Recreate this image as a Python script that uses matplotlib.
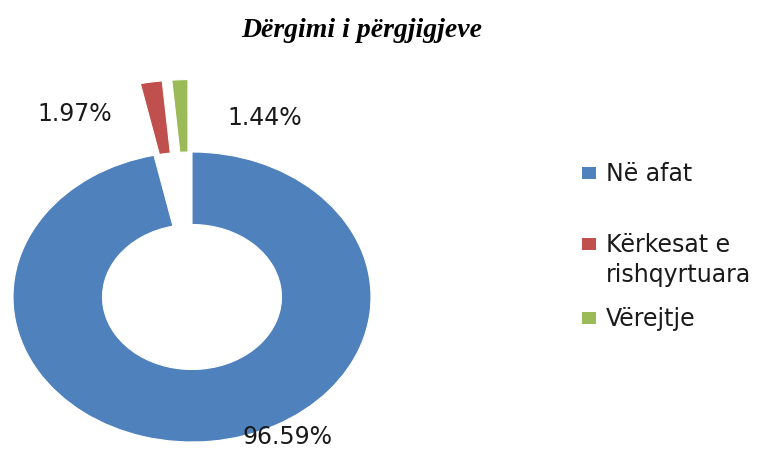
import matplotlib
matplotlib.use("Agg")
import matplotlib.pyplot as plt
from matplotlib.patches import Rectangle

# data
labels = ["Në afat", "Kërkesat e\nrishqyrtuara", "Vërejtje"]
values = [96.59, 1.97, 1.44]
pct_text = ["96.59%", "1.97%", "1.44%"]
colors = ["#4F81BD", "#C0504D", "#9BBB59"]
explode = [0.0, 0.5, 0.5]

W, H = 770, 450
fig = plt.figure(figsize=(W / 100, H / 100), dpi=100)

# pie centre and radii in pixels (the source image is stretched sideways)
cx, cy = 192, 450 - 297
rx, ry = 179, 145
ax = fig.add_axes([0, 0, 1, 1])
ax.pie(values, colors=colors, explode=explode, startangle=90,
       counterclock=False, radius=1.0,
       wedgeprops=dict(width=0.5, linewidth=0.8, edgecolor="white"))
ax.set_aspect("auto")
ax.set_xlim(-cx / rx, (W - cx) / rx)
ax.set_ylim(-cy / ry, (H - cy) / ry)
ax.axis("off")

lab_font = dict(family="DejaVu Sans", size=17, color="#1a1a1a")

# percentage labels (pixel positions, y from top)
label_pos = [(287, 437), (75, 114), (265, 118)]
for txt, (px, py) in zip(pct_text, label_pos):
    fig.text(px / W, 1 - py / H, txt, ha="center", va="center", **lab_font)

# title
fig.text(362 / W, 1 - 37 / H, "Dërgimi i përgjigjeve", ha="center", va="baseline",
         family="Liberation Serif", style="italic", weight="bold", size=20)

# legend drawn by hand to keep the spacing of the original
leg_y = [173, 244, 318]  # marker centres, px from top
for lab, col, y in zip(labels, colors, leg_y):
    fig.patches.append(Rectangle((582 / W, 1 - (y + 6) / H), 14 / W, 12 / H,
                                 transform=fig.transFigure, facecolor=col,
                                 edgecolor="none"))
    for i, line in enumerate(lab.split("\n")):
        fig.text(606 / W, 1 - (y + 8 + 30 * i) / H, line, ha="left",
                 va="baseline", **lab_font)

fig.savefig("out.png", dpi=100)
